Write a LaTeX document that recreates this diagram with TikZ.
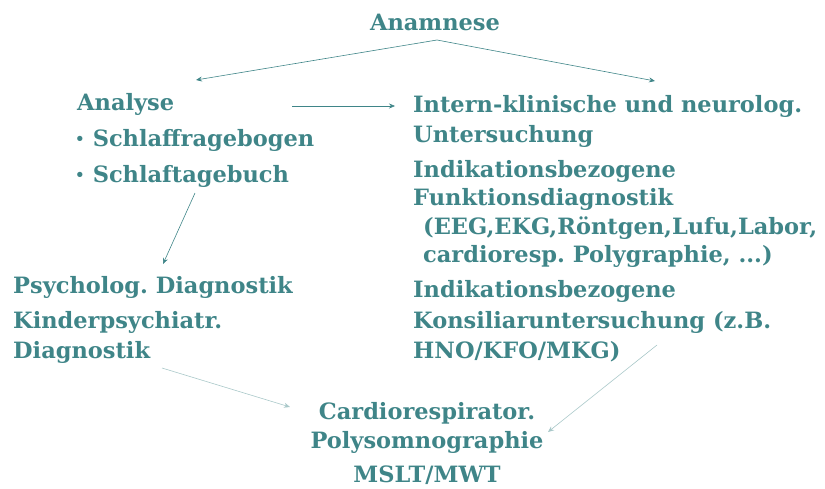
\documentclass[tikz,border=0pt]{standalone}
\usepackage{fontspec}
\setmainfont{DejaVu Serif}
\usetikzlibrary{arrows.meta}
\definecolor{tealtext}{HTML}{3F8588}
\frenchspacing
\newcommand{\itemdot}{\raisebox{2pt}{\fontsize{15}{15}\selectfont•}\hspace{8pt}}

\begin{document}
\begin{tikzpicture}[x=1pt, y=-1pt, >={Stealth[length=6pt,width=5pt]},
    txt/.style={inner sep=0pt, anchor=base west, text=tealtext, font=\bfseries\fontsize{22.5}{26}\selectfont},
    flow/.style={->, tealtext, line width=0.6pt},
    faint/.style={->, tealtext!45, line width=0.6pt}]
    \useasboundingbox (0,0) rectangle (825,488);

    % Top
    \node[txt, anchor=base] (anam) at (435,30) {Anamnese};

    % Left column
    \node[txt] (analyse) at (77,110) {Analyse};
    \node[txt] (fragebogen) at (75,146) {\itemdot Schlaffragebogen};
    \node[txt] (tagebuch) at (75,182) {\itemdot Schlaftagebuch};
    \node[txt] (psych) at (13,293) {Psycholog. Diagnostik};
    \node[txt] (kinder1) at (13,328) {Kinderpsychiatr.};
    \node[txt] (kinder2) at (13,358) {Diagnostik};

    % Right column
    \node[txt] (intern1) at (413,112) {Intern-klinische und neurolog.};
    \node[txt] (intern2) at (413,142) {Untersuchung};
    \node[txt] (funk1) at (413,177) {Indikationsbezogene};
    \node[txt] (funk2) at (413,205) {Funktionsdiagnostik};
    \node[txt] (funk3) at (423,234) {(EEG,EKG,Röntgen,Lufu,Labor,};
    \node[txt] (funk4) at (423,262) {cardioresp. Polygraphie, ...)};
    \node[txt] (kons1) at (413,297) {Indikationsbezogene};
    \node[txt] (kons2) at (413,328) {Konsiliaruntersuchung (z.B.};
    \node[txt] (kons3) at (413,358) {HNO/KFO/MKG)};

    % Bottom
    \node[txt, anchor=base] (psg1) at (427,419) {Cardiorespirator.};
    \node[txt, anchor=base] (psg2) at (427,448) {Polysomnographie};
    \node[txt, anchor=base] (mslt) at (427,482) {MSLT/MWT};

    % Free ends of the arrows
    \coordinate (peak) at (437,40);
    \coordinate (leftend) at (196,80);
    \coordinate (rightend) at (655,81);
    \coordinate (anaout) at (292,106);
    \coordinate (intin) at (395,106);
    \coordinate (tagout) at (195,193);
    \coordinate (psychin) at (163,264);
    \coordinate (kinderout) at (162,368);
    \coordinate (psgleft) at (290,407);
    \coordinate (konsout) at (657,345);
    \coordinate (psgright) at (548,432);

    % Arrows
    \draw[flow] (peak) -- (leftend);
    \draw[flow] (peak) -- (rightend);
    \draw[flow] (anaout) -- (intin);
    \draw[flow] (tagout) -- (psychin);
    \draw[faint] (kinderout) -- (psgleft);
    \draw[faint] (konsout) -- (psgright);

\end{tikzpicture}
\end{document}
